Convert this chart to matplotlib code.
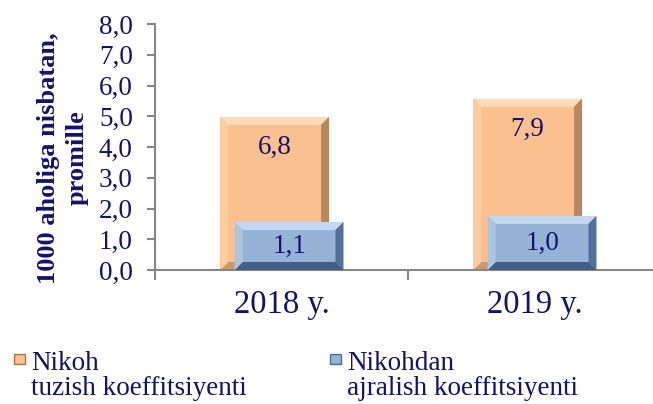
import matplotlib.pyplot as plt
from matplotlib.patches import Polygon, Rectangle

plt.rcParams['font.family'] = ['Liberation Serif', 'DejaVu Serif']

# values
years = ['2018 y.', '2019 y.']
nikoh_values = [6.8, 7.9]          # printed data labels
ajralish_values = [1.1, 1.0]
nikoh_drawn = [4.98, 5.57]         # bar tops as drawn against the axis
ajralish_drawn = [1.56, 1.76]
yticks = [0, 1, 2, 3, 4, 5, 6, 7, 8]
legend_labels = [('Nikoh', 'tuzish koeffitsiyenti'),
                 ('Nikohdan', 'ajralish koeffitsiyenti')]

navy = '#14126A'
grey = '#868686'
orange = {'face': '#FAC08F', 'top': '#FDDAB8', 'left': '#FBCCA0',
          'right': '#B8875C', 'bottom': '#C99B70'}
blue = {'face': '#95B3D7', 'top': '#C6D8EF', 'left': '#ADC4E1',
        'right': '#50709A', 'bottom': '#405E86'}

W, H = 653, 404
fig = plt.figure(figsize=(W / 100, H / 100), dpi=100)
ax = fig.add_axes([155 / W, (H - 270) / H, (661 - 155) / W, (270 - 24) / H])
ax.set_xlim(-0.5, 1.5)
ax.set_ylim(0, 8)

# pixel -> data scale for bevel size
px_x = 2 / ax.bbox.width
px_y = 8 / ax.bbox.height


def bevel_bar(xc, width, height, c, z):
    x0, x1 = xc - width / 2, xc + width / 2
    bx, by = 8 * px_x, 8 * px_y
    ax.add_patch(Rectangle((x0, 0), width, height, facecolor=c['face'],
                           edgecolor='none', zorder=z))
    polys = [
        ([(x0, height), (x1, height), (x1 - bx, height - by), (x0 + bx, height - by)], c['top']),
        ([(x0, 0), (x1, 0), (x1 - bx, by), (x0 + bx, by)], c['bottom']),
        ([(x0, 0), (x0, height), (x0 + bx, height - by), (x0 + bx, by)], c['left']),
        ([(x1, 0), (x1, height), (x1 - bx, height - by), (x1 - bx, by)], c['right']),
    ]
    for pts, col in polys:
        ax.add_patch(Polygon(pts, closed=True, facecolor=col, edgecolor='none', zorder=z))


bar_w = 0.43
for i in range(len(years)):
    xo = i - 0.027
    xb = i + 0.03
    bevel_bar(xo, bar_w, nikoh_drawn[i], orange, 2)
    bevel_bar(xb, bar_w, ajralish_drawn[i], blue, 3)
    ax.annotate(f'{nikoh_values[i]:.1f}'.replace('.', ','), (xo, nikoh_drawn[i]),
                xytext=(0, -22), textcoords='offset points', ha='center', va='center',
                fontsize=19.5, color=navy, zorder=5)
    ax.text(xb, ajralish_drawn[i] / 2, f'{ajralish_values[i]:.1f}'.replace('.', ','),
            ha='center', va='center', fontsize=19.5, color=navy, zorder=5)

ax.set_yticks(yticks)
ax.set_yticklabels([f'{v:.1f}'.replace('.', ',') for v in yticks])
ax.tick_params(axis='y', length=6, width=1.5, color=grey, pad=10,
               labelsize=19.5, labelcolor=navy)
ax.set_xticks(range(len(years)))
ax.set_xticklabels(years)
ax.tick_params(axis='x', which='major', length=0, pad=14, labelsize=23.5, labelcolor=navy)
ax.set_xticks([-0.5, 0.5, 1.5], minor=True)
ax.tick_params(axis='x', which='minor', length=7, width=1.5, color=grey)

for s in ['top', 'right']:
    ax.spines[s].set_visible(False)
for s in ['left', 'bottom']:
    ax.spines[s].set_color(grey)
    ax.spines[s].set_linewidth(1.5)

fig.text(63 / W, 1 - 158 / H, '1000 aholiga nisbatan,\npromille', rotation=90,
         ha='center', va='center', multialignment='center', fontsize=19,
         fontweight='bold', color=navy, linespacing=1.3)

# legend
leg_cols = [(orange['face'], '#A8784F'), (blue['face'], '#4E6E98')]
for (l1, l2), (fc, ec), mx, tx in zip(legend_labels, leg_cols, [14, 330], [31, 347]):
    fig.patches.append(Rectangle((mx / W, 1 - 364 / H), 11 / W, 10 / H,
                                 transform=fig.transFigure, facecolor=fc,
                                 edgecolor=ec, linewidth=1))
    fig.text(tx / W, 1 - 370 / H, l1, fontsize=19.5, color=navy, va='baseline')
    fig.text(tx / W, 1 - 395 / H, l2, fontsize=19.5, color=navy, va='baseline')

fig.savefig('out.png', dpi=100)
